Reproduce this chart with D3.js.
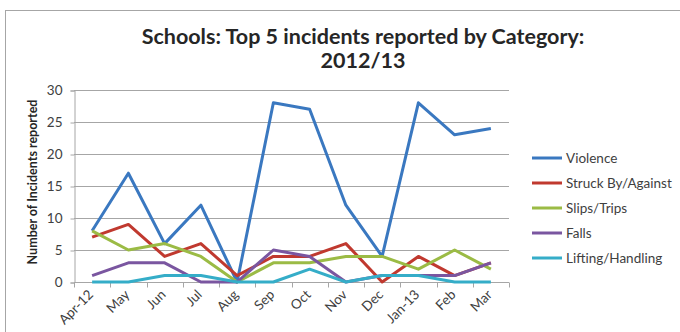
<!DOCTYPE html>
<html>
<head>
<meta charset="utf-8">
<script src="https://cdn.jsdelivr.net/npm/d3@7"></script>
<style>
  html, body { margin: 0; padding: 0; background: #fff; }
  svg { display: block; font-family: Lato, "Open Sans", sans-serif; }
</style>
</head>
<body>
<svg id="chart" width="680" height="332"></svg>
<script>
// Monthly incident counts for schools, 2012/13
const months = ["Apr-12", "May", "Jun", "Jul", "Aug", "Sep", "Oct", "Nov", "Dec", "Jan-13", "Feb", "Mar"];
const violence = [8, 17, 6, 12, 0, 28, 27, 12, 4, 28, 23, 24];
const struckBy = [7, 9, 4, 6, 1, 4, 4, 6, 0, 4, 1, 3];
const slipsTrips = [8, 5, 6, 4, 0, 3, 3, 4, 4, 2, 5, 2];
const falls = [1, 3, 3, 0, 0, 5, 4, 0, 1, 1, 1, 3];
const lifting = [0, 0, 1, 1, 0, 0, 2, 0, 1, 1, 0, 0];
const yTicks = [0, 5, 10, 15, 20, 25, 30];

const series = [
  { name: "Violence", values: violence, color: "#3a78c0" },
  { name: "Struck By/Against", values: struckBy, color: "#c0392f" },
  { name: "Slips/Trips", values: slipsTrips, color: "#9bbb45" },
  { name: "Falls", values: falls, color: "#7a56a0" },
  { name: "Lifting/Handling", values: lifting, color: "#35adc8" }
];

const svg = d3.select("#chart");

// Chart frame
svg.append("rect")
  .attr("x", 5.5).attr("y", 10.5)
  .attr("width", 700).attr("height", 340)
  .attr("fill", "#fff").attr("stroke", "#a6a6a6").attr("stroke-width", 1);

const plot = { left: 74, right: 509, top: 90, bottom: 282 };

const x = d3.scaleBand().domain(months).range([plot.left, plot.right]);
const y = d3.scaleLinear().domain([0, 30]).range([plot.bottom, plot.top]);

// Title
const title = svg.append("text")
  .attr("text-anchor", "middle")
  .attr("font-weight", "bold").attr("font-size", 21.5)
  .attr("fill", "#262626");
title.append("tspan").attr("x", 363).attr("y", 44).text("Schools: Top 5 incidents reported by Category:");
title.append("tspan").attr("x", 363).attr("y", 68).text("2012/13");

// Horizontal gridlines
svg.append("g")
  .selectAll("line")
  .data(yTicks.filter(d => d > 0))
  .join("line")
  .attr("x1", plot.left).attr("x2", plot.right)
  .attr("y1", d => Math.round(y(d)) + 0.5).attr("y2", d => Math.round(y(d)) + 0.5)
  .attr("stroke", "#a6a6a6");

// Y axis
const yAxis = svg.append("g")
  .attr("transform", `translate(${plot.left + 0.5},0.5)`)
  .call(d3.axisLeft(y).tickValues(yTicks).tickSize(4).tickPadding(8));
yAxis.select(".domain").attr("stroke", "#a6a6a6");
yAxis.selectAll(".tick line").attr("stroke", "#a6a6a6");
yAxis.selectAll(".tick text")
  .attr("font-size", 13.5).attr("fill", "#404040")
  .attr("font-family", "Lato, sans-serif");

// X axis with ticks on category boundaries
const xAxis = svg.append("g")
  .attr("transform", `translate(0,${plot.bottom + 0.5})`);
xAxis.append("line")
  .attr("x1", plot.left).attr("x2", plot.right)
  .attr("stroke", "#a6a6a6");
const bounds = months.map(m => x(m)).concat([plot.right]);
xAxis.selectAll("line.tk")
  .data(bounds)
  .join("line")
  .attr("class", "tk")
  .attr("x1", d => Math.round(d) + 0.5).attr("x2", d => Math.round(d) + 0.5)
  .attr("y1", 0).attr("y2", 5)
  .attr("stroke", "#a6a6a6");
xAxis.selectAll("text")
  .data(months)
  .join("text")
  .attr("transform", d => `translate(${x(d) + x.bandwidth() / 2 + 2},${13}) rotate(-45)`)
  .attr("text-anchor", "end")
  .attr("font-size", 13.5).attr("fill", "#404040")
  .text(d => d);

// Y axis title
svg.append("text")
  .attr("transform", `translate(37,${(plot.top + plot.bottom) / 2 - 4}) rotate(-90)`)
  .attr("text-anchor", "middle")
  .attr("font-weight", "bold").attr("font-size", 12.5)
  .attr("fill", "#262626")
  .text("Number of Incidents reported");

// Lines
const line = d3.line()
  .x((d, i) => x(months[i]) + x.bandwidth() / 2)
  .y(d => y(d));

svg.append("g")
  .selectAll("path")
  .data(series)
  .join("path")
  .attr("d", d => line(d.values))
  .attr("fill", "none")
  .attr("stroke", d => d.color)
  .attr("stroke-width", 3)
  .attr("stroke-linejoin", "round");

// Legend
const legend = svg.append("g")
  .selectAll("g")
  .data(series)
  .join("g")
  .attr("transform", (d, i) => `translate(532,${158 + i * 25})`);
legend.append("line")
  .attr("x1", 0).attr("x2", 30)
  .attr("stroke", d => d.color).attr("stroke-width", 3);
legend.append("text")
  .attr("x", 34).attr("dy", "0.35em")
  .attr("font-size", 13.5).attr("fill", "#404040")
  .text(d => d.name);
</script>
</body>
</html>
